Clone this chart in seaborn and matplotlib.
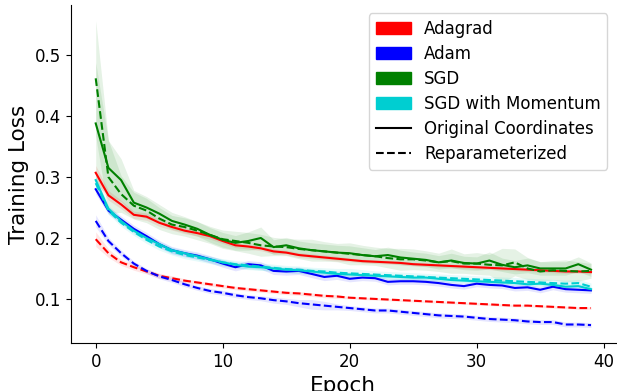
import numpy as np
import pandas as pd
import matplotlib.pyplot as plt
import seaborn as sns
from matplotlib.patches import Patch
from matplotlib.lines import Line2D

epochs = list(range(40))

adagrad_orig = [0.307, 0.270, 0.255, 0.238, 0.235, 0.225, 0.218, 0.212, 0.208, 0.203,
                0.195, 0.188, 0.186, 0.183, 0.178, 0.176, 0.172, 0.170, 0.168, 0.166,
                0.164, 0.162, 0.161, 0.160, 0.159, 0.157, 0.156, 0.155, 0.154, 0.153,
                0.152, 0.151, 0.150, 0.149, 0.148, 0.147, 0.146, 0.145, 0.145, 0.144]
adagrad_rep = [0.198, 0.175, 0.160, 0.152, 0.145, 0.138, 0.134, 0.130, 0.127, 0.124,
               0.121, 0.118, 0.116, 0.114, 0.112, 0.110, 0.109, 0.107, 0.105, 0.104,
               0.102, 0.101, 0.100, 0.099, 0.098, 0.097, 0.096, 0.095, 0.094, 0.093,
               0.092, 0.091, 0.090, 0.089, 0.089, 0.088, 0.087, 0.086, 0.085, 0.085]
adam_orig = [0.280, 0.245, 0.230, 0.215, 0.203, 0.190, 0.180, 0.175, 0.171, 0.165,
             0.158, 0.152, 0.157, 0.155, 0.146, 0.145, 0.146, 0.141, 0.136, 0.138,
             0.133, 0.135, 0.134, 0.128, 0.129, 0.129, 0.128, 0.126, 0.123, 0.121,
             0.125, 0.123, 0.122, 0.118, 0.119, 0.115, 0.120, 0.116, 0.115, 0.114]
adam_rep = [0.228, 0.195, 0.175, 0.158, 0.146, 0.137, 0.131, 0.124, 0.118, 0.113,
            0.110, 0.106, 0.103, 0.101, 0.098, 0.096, 0.093, 0.091, 0.089, 0.087,
            0.085, 0.083, 0.081, 0.081, 0.079, 0.077, 0.075, 0.073, 0.072, 0.071,
            0.069, 0.067, 0.066, 0.065, 0.063, 0.062, 0.062, 0.058, 0.058, 0.057]
sgd_orig = [0.388, 0.315, 0.295, 0.258, 0.250, 0.240, 0.228, 0.222, 0.215, 0.205,
            0.197, 0.192, 0.195, 0.200, 0.185, 0.188, 0.183, 0.180, 0.178, 0.176,
            0.175, 0.172, 0.170, 0.172, 0.168, 0.166, 0.164, 0.160, 0.163, 0.159,
            0.158, 0.163, 0.156, 0.152, 0.155, 0.150, 0.150, 0.150, 0.157, 0.148]
sgd_rep = [0.462, 0.300, 0.272, 0.253, 0.245, 0.232, 0.222, 0.218, 0.212, 0.205,
           0.198, 0.195, 0.192, 0.188, 0.186, 0.185, 0.182, 0.180, 0.178, 0.176,
           0.174, 0.172, 0.170, 0.167, 0.165, 0.165, 0.163, 0.160, 0.162, 0.158,
           0.158, 0.156, 0.155, 0.160, 0.150, 0.145, 0.147, 0.146, 0.145, 0.146]
mom_orig = [0.295, 0.248, 0.228, 0.212, 0.200, 0.190, 0.180, 0.175, 0.170, 0.165,
            0.160, 0.156, 0.153, 0.152, 0.150, 0.148, 0.147, 0.145, 0.143, 0.141,
            0.140, 0.139, 0.138, 0.137, 0.136, 0.135, 0.135, 0.133, 0.131, 0.130,
            0.129, 0.128, 0.127, 0.126, 0.124, 0.125, 0.123, 0.120, 0.121, 0.116]
mom_rep = [0.290, 0.245, 0.225, 0.210, 0.197, 0.186, 0.178, 0.172, 0.168, 0.164,
           0.160, 0.157, 0.155, 0.153, 0.151, 0.149, 0.148, 0.146, 0.145, 0.143,
           0.142, 0.141, 0.140, 0.139, 0.138, 0.137, 0.136, 0.135, 0.134, 0.133,
           0.132, 0.131, 0.130, 0.129, 0.128, 0.127, 0.126, 0.125, 0.126, 0.120]

# half-width of the shaded band around each curve
adagrad_orig_hw = [0.012, 0.008, 0.007, 0.006, 0.006, 0.006, 0.005, 0.005, 0.005, 0.005,
                   0.004, 0.004, 0.004, 0.004, 0.004, 0.004, 0.004, 0.004, 0.004, 0.004,
                   0.003, 0.003, 0.003, 0.003, 0.003, 0.003, 0.003, 0.003, 0.003, 0.003,
                   0.003, 0.003, 0.003, 0.003, 0.003, 0.003, 0.003, 0.003, 0.003, 0.003]
adagrad_rep_hw = [0.012, 0.007, 0.005, 0.005, 0.004, 0.004, 0.004, 0.003, 0.003, 0.003,
                  0.003, 0.003, 0.003, 0.003, 0.003, 0.003, 0.003, 0.003, 0.003, 0.003,
                  0.002, 0.002, 0.002, 0.002, 0.002, 0.002, 0.002, 0.002, 0.002, 0.002,
                  0.002, 0.002, 0.002, 0.002, 0.002, 0.002, 0.002, 0.002, 0.002, 0.002]
adam_orig_hw = [0.008, 0.006, 0.006, 0.006, 0.006, 0.006, 0.006, 0.006, 0.006, 0.006,
                0.006, 0.006, 0.006, 0.006, 0.006, 0.006, 0.006, 0.006, 0.006, 0.006,
                0.005, 0.005, 0.005, 0.005, 0.005, 0.005, 0.005, 0.005, 0.005, 0.005,
                0.005, 0.005, 0.005, 0.005, 0.005, 0.005, 0.005, 0.005, 0.005, 0.005]
adam_rep_hw = [0.010, 0.006, 0.005, 0.004, 0.004, 0.004, 0.004, 0.004, 0.004, 0.004,
               0.004, 0.004, 0.004, 0.004, 0.005, 0.005, 0.006, 0.008, 0.007, 0.005,
               0.004, 0.004, 0.004, 0.004, 0.004, 0.004, 0.004, 0.004, 0.004, 0.004,
               0.004, 0.004, 0.004, 0.004, 0.004, 0.004, 0.004, 0.004, 0.004, 0.004]
sgd_orig_hw = [0.100, 0.045, 0.035, 0.020, 0.018, 0.015, 0.014, 0.013, 0.012, 0.012,
               0.012, 0.012, 0.015, 0.018, 0.012, 0.013, 0.012, 0.012, 0.012, 0.012,
               0.012, 0.012, 0.011, 0.013, 0.012, 0.011, 0.011, 0.011, 0.012, 0.011,
               0.011, 0.014, 0.011, 0.011, 0.012, 0.011, 0.011, 0.011, 0.012, 0.011]
sgd_rep_hw = [0.095, 0.060, 0.030, 0.022, 0.020, 0.018, 0.015, 0.015, 0.015, 0.014,
              0.015, 0.016, 0.017, 0.018, 0.015, 0.014, 0.016, 0.018, 0.016, 0.015,
              0.018, 0.016, 0.015, 0.016, 0.018, 0.017, 0.016, 0.015, 0.020, 0.016,
              0.018, 0.017, 0.028, 0.022, 0.018, 0.016, 0.016, 0.018, 0.016, 0.012]
mom_orig_hw = [0.008, 0.006, 0.005, 0.005, 0.005, 0.005, 0.005, 0.005, 0.005, 0.005,
               0.005, 0.005, 0.005, 0.005, 0.005, 0.005, 0.005, 0.005, 0.005, 0.005,
               0.004, 0.004, 0.004, 0.004, 0.004, 0.004, 0.004, 0.004, 0.004, 0.004,
               0.004, 0.004, 0.004, 0.004, 0.004, 0.004, 0.004, 0.004, 0.004, 0.004]
mom_rep_hw = [0.008, 0.006, 0.006, 0.006, 0.006, 0.006, 0.006, 0.006, 0.006, 0.006,
              0.006, 0.006, 0.006, 0.006, 0.006, 0.006, 0.006, 0.006, 0.006, 0.007,
              0.008, 0.007, 0.006, 0.006, 0.006, 0.006, 0.006, 0.006, 0.006, 0.006,
              0.006, 0.006, 0.006, 0.006, 0.006, 0.006, 0.006, 0.006, 0.006, 0.006]

optimizers = ["Adagrad", "Adam", "SGD", "SGD with Momentum"]
colors = {"Adagrad": "red", "Adam": "blue", "SGD": "green",
          "SGD with Momentum": "darkturquoise"}
series = {
    ("Adagrad", "Original Coordinates"): (adagrad_orig, adagrad_orig_hw),
    ("Adagrad", "Reparameterized"): (adagrad_rep, adagrad_rep_hw),
    ("Adam", "Original Coordinates"): (adam_orig, adam_orig_hw),
    ("Adam", "Reparameterized"): (adam_rep, adam_rep_hw),
    ("SGD", "Original Coordinates"): (sgd_orig, sgd_orig_hw),
    ("SGD", "Reparameterized"): (sgd_rep, sgd_rep_hw),
    ("SGD with Momentum", "Original Coordinates"): (mom_orig, mom_orig_hw),
    ("SGD with Momentum", "Reparameterized"): (mom_rep, mom_rep_hw),
}

rows = []
for (opt, param), (vals, hw) in series.items():
    for e, v, h in zip(epochs, vals, hw):
        rows.append({"epoch": e, "loss": v, "hw": h, "optimizer": opt, "param": param})
df = pd.DataFrame(rows)

plt.rcParams["font.family"] = ["DejaVu Sans"]

fig = plt.figure(figsize=(6.17, 3.91), dpi=100)
ax = fig.add_axes([0.115, 0.123, 0.883, 0.864])

# shaded bands first, lines on top
for (opt, param), g in df.groupby(["optimizer", "param"]):
    ax.fill_between(g["epoch"], g["loss"] - g["hw"], g["loss"] + g["hw"],
                    color=colors[opt], alpha=0.1, linewidth=0)

sns.lineplot(data=df, x="epoch", y="loss", hue="optimizer", style="param",
             hue_order=optimizers, palette=colors,
             style_order=["Original Coordinates", "Reparameterized"],
             dashes={"Original Coordinates": "", "Reparameterized": (3.7, 1.6)},
             linewidth=1.5, errorbar=None, ax=ax, legend=False)

sns.despine(ax=ax)
ax.tick_params(axis="both", labelsize=12)
ax.set_xticks([0, 10, 20, 30, 40])
ax.set_yticks([0.1, 0.2, 0.3, 0.4, 0.5])
ax.set_xlabel("Epoch", fontsize=15.5)
ax.set_ylabel("Training Loss", fontsize=15.5)

handles = [Patch(color=colors[o], label=o) for o in optimizers]
handles += [Line2D([], [], color="black", lw=1.5, label="Original Coordinates"),
            Line2D([], [], color="black", lw=1.5, ls="--", label="Reparameterized")]
ax.legend(handles=handles, loc="upper right", fontsize=12, handlelength=2.1,
          labelspacing=0.42)

plt.savefig("out.png", dpi=100)
